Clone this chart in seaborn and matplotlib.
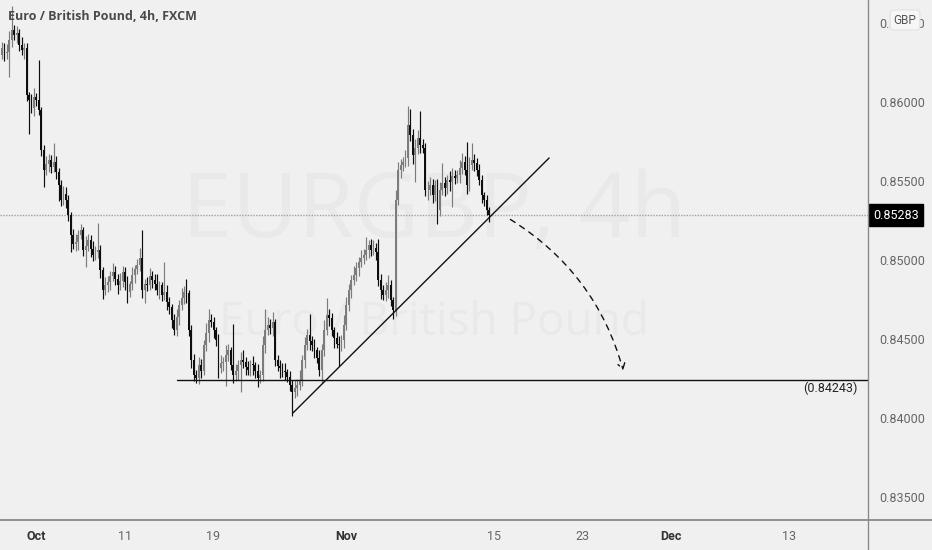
import numpy as np
import pandas as pd
import matplotlib
matplotlib.use("Agg")
import matplotlib.pyplot as plt
import matplotlib.transforms as mtransforms
from matplotlib.lines import Line2D
from matplotlib.patches import FancyArrowPatch
import seaborn as sns

# ---- data (EUR/GBP 4h) ----
start_day = "2021-09-28"
first_open = 0.86300
closes = [
    0.86342, 0.86310, 0.86316, 0.86390, 0.86456, 0.86424, 0.86440, 0.86361, 0.86330, 0.86342,
    0.86044, 0.86010, 0.85962, 0.86030, 0.86013, 0.85949, 0.85696, 0.85570, 0.85610, 0.85633,
    0.85590, 0.85620, 0.85560, 0.85475, 0.85380, 0.85420, 0.85380, 0.85285, 0.85158, 0.85100,
    0.85114, 0.85160, 0.85190, 0.85063, 0.85090, 0.85127, 0.85070, 0.85032, 0.85050, 0.85063,
    0.84937, 0.84810, 0.84840, 0.84861, 0.84900, 0.84924, 0.84880, 0.84842, 0.84870, 0.84924,
    0.84860, 0.84797, 0.84850, 0.84905, 0.84940, 0.84968, 0.85013, 0.84810, 0.84850, 0.84842,
    0.84900, 0.84873, 0.84850, 0.84810, 0.84840, 0.84778, 0.84800, 0.84734, 0.84700, 0.84620,
    0.84557, 0.84640, 0.84715, 0.84760, 0.84797, 0.84790, 0.84557, 0.84367, 0.84272, 0.84253,
    0.84335, 0.84300, 0.84462, 0.84540, 0.84620, 0.84608, 0.84557, 0.84494, 0.84316, 0.84350,
    0.84354, 0.84400, 0.84430, 0.84335, 0.84272, 0.84300, 0.84335, 0.84370, 0.84354, 0.84320,
    0.84304, 0.84340, 0.84335, 0.84300, 0.84253, 0.84272, 0.84462, 0.84557, 0.84589, 0.84570,
    0.84608, 0.84367, 0.84330, 0.84316, 0.84300, 0.84291, 0.84260, 0.84209, 0.84165, 0.84190,
    0.84209, 0.84241, 0.84367, 0.84462, 0.84525, 0.84490, 0.84462, 0.84430, 0.84380, 0.84304,
    0.84430, 0.84557, 0.84652, 0.84633, 0.84557, 0.84506, 0.84470, 0.84462, 0.84494, 0.84589,
    0.84715, 0.84810, 0.84873, 0.84905, 0.84949, 0.84987, 0.85013, 0.85032, 0.85063, 0.85095,
    0.85063, 0.85076, 0.85051, 0.84873, 0.84810, 0.84778, 0.84810, 0.84842, 0.84747, 0.84684,
    0.85380, 0.85570, 0.85601, 0.85620, 0.85646, 0.85854, 0.85791, 0.85665, 0.85709, 0.85772,
    0.85728, 0.85709, 0.85443, 0.85443, 0.85475, 0.85411, 0.85475, 0.85316, 0.85443, 0.85487,
    0.85456, 0.85506, 0.85494, 0.85532, 0.85519, 0.85538, 0.85582, 0.85620, 0.85570, 0.85475,
    0.85601, 0.85633, 0.85614, 0.85570, 0.85506, 0.85411, 0.85380, 0.85316, 0.85283,
]
# wick lengths above / below the body, in pips
upper_wick = [
    4, 3, 5, 6, 15, 3, 4, 2, 5, 3, 3, 2, 4, 6, 3, 25, 2, 3, 5, 4,
    3, 12, 4, 2, 3, 5, 4, 3, 2, 4, 5, 3, 4, 2, 6, 4, 3, 5, 4, 17,
    3, 2, 5, 4, 3, 6, 4, 3, 5, 4, 3, 4, 2, 5, 3, 4, 6, 18, 3, 4,
    5, 3, 4, 6, 3, 2, 19, 4, 3, 2, 4, 5, 3, 6, 4, 8, 2, 3, 4, 3,
    5, 4, 3, 6, 7, 4, 3, 2, 4, 5, 3, 6, 4, 2, 26, 4, 3, 5, 6, 3,
    4, 3, 5, 2, 4, 3, 6, 13, 5, 4, 6, 2, 3, 4, 3, 5, 2, 4, 3, 5,
    4, 6, 3, 5, 4, 13, 3, 4, 2, 5, 4, 6, 11, 4, 3, 2, 4, 5, 3, 6,
    5, 4, 3, 6, 4, 3, 5, 4, 8, 3, 4, 5, 3, 8, 4, 3, 5, 6, 3, 2,
    6, 5, 4, 3, 5, 12, 10, 4, 6, 5, 17, 4, 3, 6, 5, 4, 3, 4, 5, 13,
    4, 3, 6, 5, 4, 3, 5, 6, 4, 18, 5, 11, 4, 3, 4, 3, 2, 3, 2,
]
lower_wick = [
    3, 5, 4, 16, 4, 3, 5, 4, 3, 6, 4, 21, 3, 5, 4, 3, 4, 11, 3, 5,
    4, 3, 5, 10, 4, 3, 5, 4, 11, 3, 4, 5, 3, 4, 11, 3, 5, 4, 3, 4,
    5, 6, 3, 4, 5, 3, 4, 6, 3, 4, 5, 7, 3, 4, 5, 3, 4, 5, 8, 4,
    3, 5, 4, 3, 6, 4, 3, 5, 4, 5, 3, 4, 5, 3, 4, 6, 4, 5, 4, 3,
    4, 5, 3, 4, 6, 3, 5, 4, 6, 3, 5, 15, 4, 3, 5, 4, 6, 17, 4, 5,
    3, 4, 6, 5, 6, 3, 4, 5, 3, 4, 5, 4, 3, 6, 4, 5, 3, 4, 15, 4,
    5, 3, 4, 5, 3, 6, 4, 5, 3, 4, 8, 4, 3, 5, 4, 6, 3, 13, 4, 5,
    3, 4, 5, 3, 4, 5, 3, 4, 3, 5, 4, 3, 5, 4, 6, 3, 4, 5, 4, 6,
    4, 3, 5, 4, 3, 5, 4, 6, 17, 4, 5, 3, 4, 6, 3, 5, 4, 9, 4, 3,
    5, 4, 6, 16, 4, 3, 5, 4, 3, 6, 4, 3, 5, 4, 3, 5, 4, 3, 4,
]

tick_dates = ["2021-10-01", "2021-10-11", "2021-10-19", "2021-11-01",
              "2021-11-15", "2021-11-23", "2021-12-01", "2021-12-13"]
tick_labels = ["Oct", "11", "19", "Nov", "15", "23", "Dec", "13"]
month_labels = ["Oct", "Nov", "Dec"]

price_ticks = [0.835, 0.840, 0.845, 0.850, 0.855, 0.860, 0.865]
last_price = 0.85283
support_level = 0.84243
# drawings: (day, bar within day, price)
support_from = ("2021-10-14", 3)
trend_start = ("2021-10-26", 2.3, 0.84032)
trend_end = ("2021-11-18", 4.4, 0.85646)
forecast_start = ("2021-11-15", 5.7, 0.85266)
forecast_end = ("2021-11-25", 4.8, 0.84285)

BARS_PER_DAY = 6
START_BAR = 4  # the first bar is the 16:00 bar of the start day


def bar_index(day, extra=0.0):
    return np.busday_count(start_day, day) * BARS_PER_DAY - START_BAR + extra


# ---- build OHLC frame ----
df = pd.DataFrame({"close": closes})
df["open"] = [first_open] + closes[:-1]
df["high"] = df[["open", "close"]].max(axis=1) + np.array(upper_wick) * 1e-4
df["low"] = df[["open", "close"]].min(axis=1) - np.array(lower_wick) * 1e-4
df["idx"] = np.arange(len(df))
df["up"] = df["close"] >= df["open"]

BG = "#f0f0f0"
UP = "#7c7c7c"
DOWN = "#0e0e0e"

sns.set_theme(style="white", rc={"axes.facecolor": BG, "figure.facecolor": BG})
plt.rcParams["font.family"] = ["Roboto", "DejaVu Sans"]

fig = plt.figure(figsize=(9.32, 5.5), dpi=100)
ax = fig.add_axes([0, 30 / 550, 868 / 932, 520 / 550])
ax.set_facecolor(BG)

# watermark
ax.text(0.5, 0.588, "EURGBP, 4h", transform=ax.transAxes, ha="center", va="center",
        fontsize=65, color="#e9e9e9", zorder=0, family="Open Sans")
ax.text(0.5, 0.378, "Euro / British Pound", transform=ax.transAxes, ha="center",
        va="center", fontsize=33, color="#e9e9e9", zorder=0, family="Open Sans")

# candles
colors = np.where(df["up"], UP, DOWN)
ax.vlines(df["idx"], df["low"], df["high"], colors=colors, lw=0.85, zorder=3)
body = (df["close"] - df["open"]).abs().clip(lower=3e-5)
ax.bar(df["idx"], body, bottom=df[["open", "close"]].min(axis=1), width=0.75,
       color=colors, linewidth=0, zorder=3)

# current price dotted line
ax.axhline(last_price, color="#a0a0a0", lw=1, ls=(0, (1, 1)), zorder=1)

# support line
x0 = bar_index(*support_from)
ax.plot([x0, 360], [support_level, support_level], color="#111111", lw=1, zorder=4)
blend = mtransforms.blended_transform_factory(ax.transAxes, ax.transData)
ax.text(0.988, support_level - 0.00012, "(0.84243)", transform=blend, ha="right",
        va="top", fontsize=9, color="#222222")

# trend line
tx = [bar_index(trend_start[0], trend_start[1]), bar_index(trend_end[0], trend_end[1])]
ty = [trend_start[2], trend_end[2]]
ax.plot(tx, ty, color="#111111", lw=1, zorder=4)

# forecast arrow
arrow = FancyArrowPatch((bar_index(forecast_start[0], forecast_start[1]), forecast_start[2]),
                        (bar_index(forecast_end[0], forecast_end[1]), forecast_end[2]),
                        connectionstyle="arc3,rad=-0.2",
                        arrowstyle="->,head_length=4,head_width=2.5",
                        color="#111111", lw=1, ls=(0, (4, 4)), zorder=4)
ax.add_patch(arrow)

# axes
ax.set_xlim(-0.8, 352)
ax.set_ylim(0.83354, 0.86646)
ax.yaxis.tick_right()
ax.set_yticks(price_ticks)
ax.set_yticklabels([f"{p:.5f}" for p in price_ticks])
ax.set_xticks([bar_index(d) for d in tick_dates])
ax.set_xticklabels(tick_labels)
ax.tick_params(axis="y", length=0, pad=8, labelsize=9, labelcolor="#666666")
ax.tick_params(axis="x", length=0, pad=7, labelsize=9, labelcolor="#666666")
for lab in ax.get_xticklabels():
    if lab.get_text() in month_labels:
        lab.set_fontweight("bold")
        lab.set_color("#333333")
for s in ax.spines.values():
    s.set_visible(False)

# panel dividers
fig.add_artist(Line2D([0, 1], [30 / 550, 30 / 550], color="#8a8a8a", lw=1.3))
fig.add_artist(Line2D([868 / 932, 868 / 932], [0, 1], color="#8a8a8a", lw=1.0))

# last price tag
ax.text(1.006, last_price, "0.85283", transform=blend, ha="left", va="center",
        fontsize=9, color="white", clip_on=False,
        bbox=dict(boxstyle="square,pad=0.35", fc="black", ec="black"))

# currency badge (sits over the top price label, as in the source chart)
fig.text(905 / 932, 1 - 20 / 550, "GBP", ha="center", va="center", fontsize=8.5,
         color="#555555", zorder=10,
         bbox=dict(boxstyle="round,pad=0.3", fc="#f6f6f6", ec="#e2e2e2", lw=0.8))

# title
fig.text(8 / 932, 1 - 17 / 550, "Euro / British Pound, 4h, FXCM", ha="left", va="center",
         fontsize=9, fontweight="bold", color="#4a4a4a", family="Open Sans")

fig.savefig("out.png", dpi=100, facecolor=BG)
